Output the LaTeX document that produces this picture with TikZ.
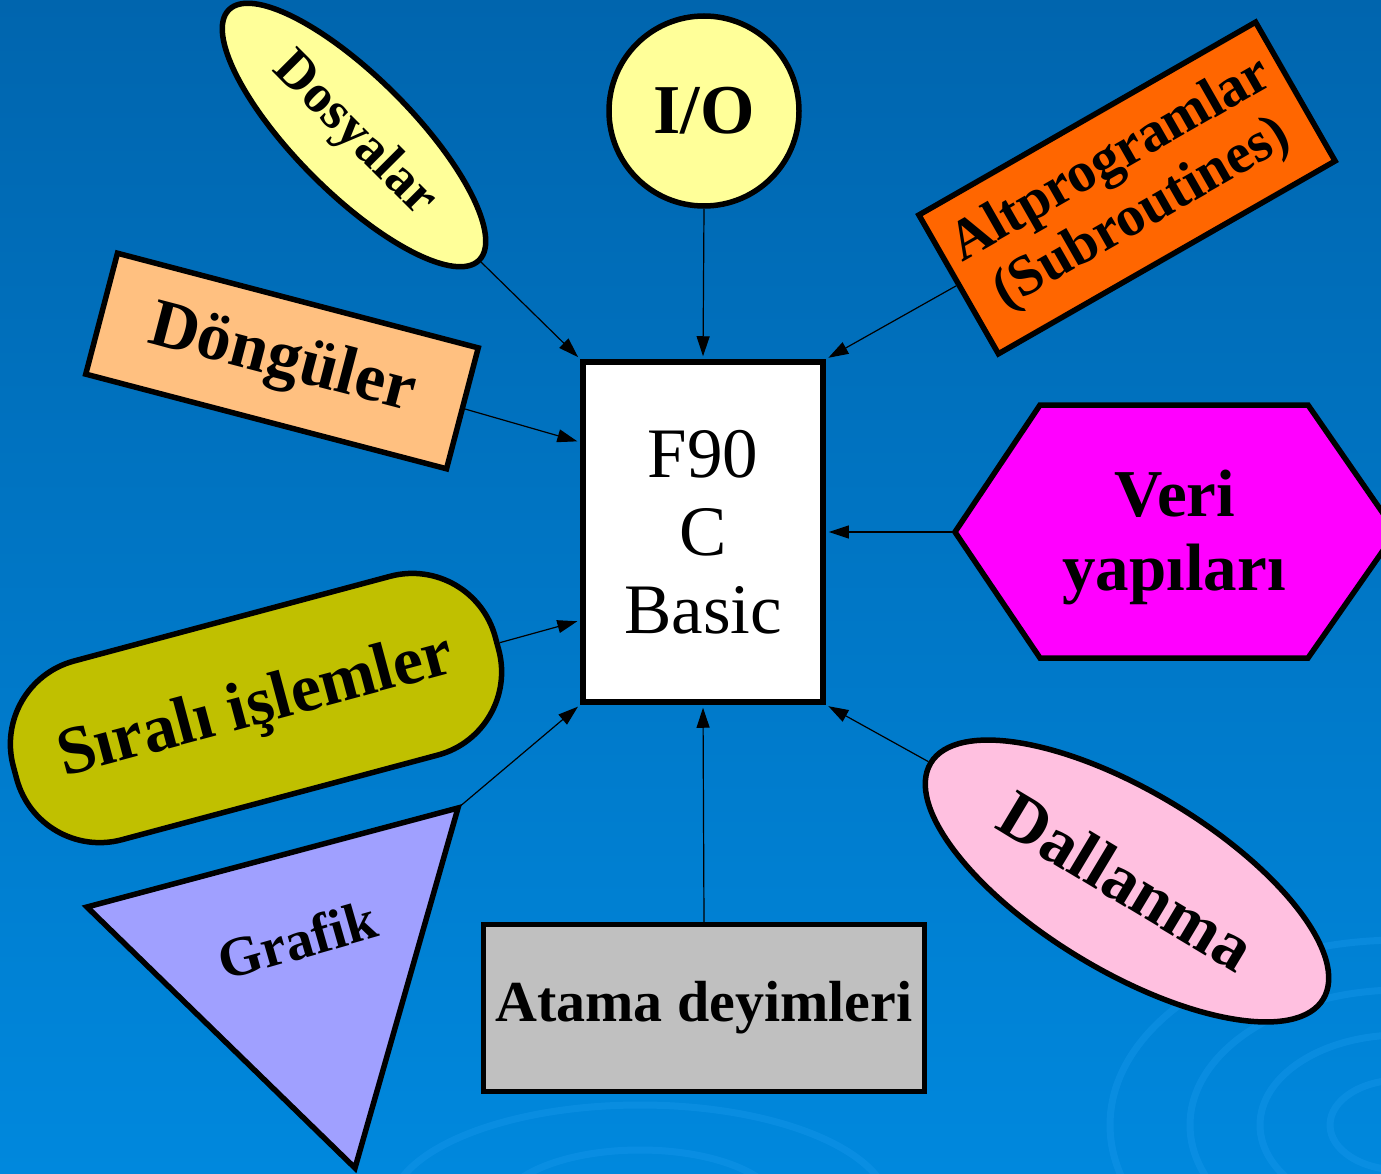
\documentclass[tikz,border=0pt]{standalone}
\usepackage{fontspec}
\setmainfont{Liberation Serif}
\usetikzlibrary{shapes.geometric,arrows.meta,calc}
\definecolor{bgtop}{HTML}{0065AE}
\definecolor{bgmid}{HTML}{006BB6}
\definecolor{bgbot}{HTML}{0088DD}
\definecolor{ripple}{HTML}{1C9BEE}
\definecolor{paleyellow}{HTML}{FFFF99}
\definecolor{peach}{HTML}{FFC080}
\definecolor{deeporange}{HTML}{FF6600}
\definecolor{hexmagenta}{HTML}{FF00FF}
\definecolor{olivegreen}{HTML}{C0C000}
\definecolor{lavender}{HTML}{A0A0FF}
\definecolor{silvergray}{HTML}{C0C0C0}
\definecolor{softpink}{HTML}{FFC0E0}
\begin{document}
\begin{tikzpicture}[x=1pt,y=-1pt,
  shapeline/.style={draw=black,line width=5.5pt},
  link/.style={draw=black,line width=1.2pt,-{Triangle[length=20pt,width=13pt]},shorten >=3pt},
  lbl/.style={font=\fontsize{#1}{#1}\selectfont\bfseries}
]
% canvas and background
\useasboundingbox (0,0) rectangle (1381,1174);
\clip (0,0) rectangle (1381,1174);
\shade[top color=bgtop,middle color=bgmid,bottom color=bgbot] (0,0) rectangle (1381,1174);

% faint water ripples
\begin{scope}[draw=ripple,opacity=0.35,line width=7pt]
  \draw (1400,1125) ellipse [x radius=70,y radius=45];
  \draw (1400,1125) ellipse [x radius=140,y radius=90];
  \draw (1400,1125) ellipse [x radius=210,y radius=135];
  \draw (1400,1125) ellipse [x radius=290,y radius=185];
  \draw (640,1210) ellipse [x radius=140,y radius=60];
  \draw (640,1210) ellipse [x radius=250,y radius=105];
\end{scope}

% central box
\node[shapeline,fill=white,minimum width=240pt,minimum height=340pt,inner sep=0pt,
      align=center,font=\fontsize{71}{78}\selectfont] (core) at (703,532) {F90\\C\\Basic};

% surrounding topics
\node[shapeline,circle,fill=paleyellow,minimum size=190pt,inner sep=0pt,lbl=70] (io) at (704,111) {I/O};

\node[shapeline,ellipse,fill=paleyellow,rotate=-45,minimum width=354pt,minimum height=116pt,
      inner sep=0pt,lbl=54] (dos) at (354,135) {Dosyalar};

\node[shapeline,rectangle,fill=peach,rotate=-14.7,minimum width=373pt,minimum height=125pt,
      inner sep=0pt,lbl=68] (don) at (282,361) {Döngüler};

\node[shapeline,rectangle,fill=deeporange,rotate=29.8,minimum width=388pt,minimum height=160pt,
      inner sep=0pt,align=center,font=\fontsize{57}{62}\selectfont\bfseries] (alt) at (1127,188)
      {Altprogramlar\\(Subroutines)};

\draw[shapeline,fill=hexmagenta] (955,532) coordinate (vtip) -- (1040,405) -- (1308,405)
      -- (1396,532) -- (1308,658) -- (1040,658) -- cycle;
\node[lbl=67,anchor=base] (veri1) at (1175,516) {Veri};
\node[lbl=67,anchor=base] (veri2) at (1174,590) {yapıları};

\node[shapeline,rectangle,rounded corners=86pt,fill=olivegreen,rotate=15,minimum width=499pt,
      minimum height=185pt,inner sep=0pt,lbl=68] (sir) at (256,708) {Sıralı işlemler};

\draw[shapeline,fill=lavender] (87,907) -- (458,808) coordinate (gtip) -- (355,1168) -- cycle;
\node[lbl=56,rotate=16] (gra) at (297,940) {Grafik};

\node[shapeline,rectangle,fill=silvergray,minimum width=441pt,minimum height=167pt,
      inner sep=0pt,lbl=58] (ata) at (704,1008) {Atama deyimleri};

\node[shapeline,ellipse,fill=softpink,rotate=-31,minimum width=458pt,minimum height=180pt,
      inner sep=0pt,lbl=68] (dal) at (1127,881) {Dallanma};

% connectors into the central box
\draw[link] (io.south) -- (core.north);
\draw[link] (dos.east) -- (core.north west);
\draw[link] (alt.west) -- (core.north east);
\draw[link] (don.east) -- ($(core.north west)!0.24!(core.south west)$);
\draw[link] (vtip) -- (core.east);
\draw[link] (sir.east) -- ($(core.north west)!0.756!(core.south west)$);
\draw[link] (gtip) -- (core.south west);
\draw[link] (ata.north) -- (core.south);
\draw[link] (dal.west) -- (core.south east);
\end{tikzpicture}
\end{document}
